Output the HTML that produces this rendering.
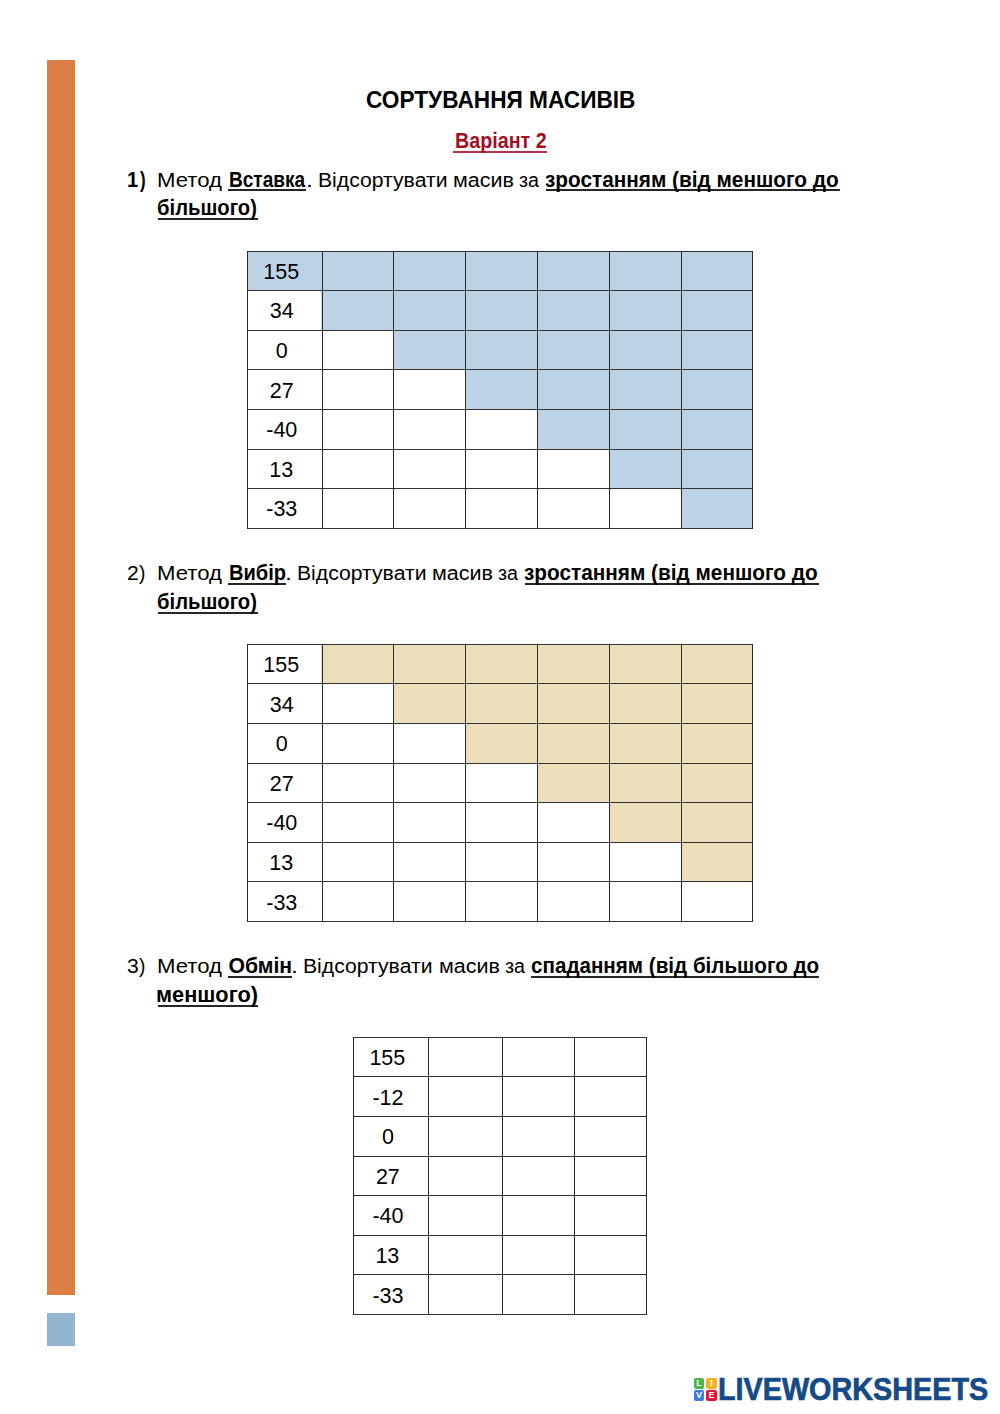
<!DOCTYPE html>
<html><head><meta charset="utf-8"><style>
html,body{margin:0;padding:0;background:#fff;}
body{width:1000px;height:1414px;position:relative;overflow:hidden;font-family:"Liberation Sans",sans-serif;color:#000;}
.t{position:absolute;white-space:pre;transform-origin:0 0;}
.b{font-weight:700;}
.u{position:absolute;height:2px;opacity:0.85;}
.sh{position:absolute;}
.hl{position:absolute;height:1px;background:#333;}
.vl{position:absolute;width:1px;background:#2a2a2a;}
.bar{position:absolute;left:46.6px;width:28.2px;}
.logo{position:absolute;}
.sq{position:absolute;width:10.5px;height:10.5px;border-radius:2px;color:#fff;font-weight:700;font-size:9px;line-height:10.5px;text-align:center;}
</style></head><body>
<div class="bar" style="top:60px;height:1234.6px;background:#dc7f47"></div>
<div class="bar" style="top:1313.2px;height:32.4px;background:#93b4d3"></div>
<div class="sh" style="left:247.5px;top:251.0px;width:75.1px;height:40.2px;background:#bdd2e4"></div>
<div class="sh" style="left:321.4px;top:251.0px;width:72.7px;height:40.2px;background:#bdd2e4"></div>
<div class="sh" style="left:392.9px;top:251.0px;width:73.2px;height:40.2px;background:#bdd2e4"></div>
<div class="sh" style="left:464.9px;top:251.0px;width:73.2px;height:40.2px;background:#bdd2e4"></div>
<div class="sh" style="left:536.9px;top:251.0px;width:73.2px;height:40.2px;background:#bdd2e4"></div>
<div class="sh" style="left:608.9px;top:251.0px;width:72.9px;height:40.2px;background:#bdd2e4"></div>
<div class="sh" style="left:680.6px;top:251.0px;width:72.1px;height:40.2px;background:#bdd2e4"></div>
<div class="sh" style="left:321.4px;top:290.0px;width:72.7px;height:40.8px;background:#bdd2e4"></div>
<div class="sh" style="left:392.9px;top:290.0px;width:73.2px;height:40.8px;background:#bdd2e4"></div>
<div class="sh" style="left:464.9px;top:290.0px;width:73.2px;height:40.8px;background:#bdd2e4"></div>
<div class="sh" style="left:536.9px;top:290.0px;width:73.2px;height:40.8px;background:#bdd2e4"></div>
<div class="sh" style="left:608.9px;top:290.0px;width:72.9px;height:40.8px;background:#bdd2e4"></div>
<div class="sh" style="left:680.6px;top:290.0px;width:72.1px;height:40.8px;background:#bdd2e4"></div>
<div class="sh" style="left:392.9px;top:329.6px;width:73.2px;height:40.8px;background:#bdd2e4"></div>
<div class="sh" style="left:464.9px;top:329.6px;width:73.2px;height:40.8px;background:#bdd2e4"></div>
<div class="sh" style="left:536.9px;top:329.6px;width:73.2px;height:40.8px;background:#bdd2e4"></div>
<div class="sh" style="left:608.9px;top:329.6px;width:72.9px;height:40.8px;background:#bdd2e4"></div>
<div class="sh" style="left:680.6px;top:329.6px;width:72.1px;height:40.8px;background:#bdd2e4"></div>
<div class="sh" style="left:464.9px;top:369.2px;width:73.2px;height:40.8px;background:#bdd2e4"></div>
<div class="sh" style="left:536.9px;top:369.2px;width:73.2px;height:40.8px;background:#bdd2e4"></div>
<div class="sh" style="left:608.9px;top:369.2px;width:72.9px;height:40.8px;background:#bdd2e4"></div>
<div class="sh" style="left:680.6px;top:369.2px;width:72.1px;height:40.8px;background:#bdd2e4"></div>
<div class="sh" style="left:536.9px;top:408.8px;width:73.2px;height:40.8px;background:#bdd2e4"></div>
<div class="sh" style="left:608.9px;top:408.8px;width:72.9px;height:40.8px;background:#bdd2e4"></div>
<div class="sh" style="left:680.6px;top:408.8px;width:72.1px;height:40.8px;background:#bdd2e4"></div>
<div class="sh" style="left:608.9px;top:448.4px;width:72.9px;height:40.8px;background:#bdd2e4"></div>
<div class="sh" style="left:680.6px;top:448.4px;width:72.1px;height:40.8px;background:#bdd2e4"></div>
<div class="sh" style="left:680.6px;top:488.0px;width:72.1px;height:40.2px;background:#bdd2e4"></div>
<div class="hl" style="left:247.0px;top:250.5px;width:506.2px"></div>
<div class="hl" style="left:247.0px;top:290.1px;width:506.2px"></div>
<div class="hl" style="left:247.0px;top:329.7px;width:506.2px"></div>
<div class="hl" style="left:247.0px;top:369.3px;width:506.2px"></div>
<div class="hl" style="left:247.0px;top:408.9px;width:506.2px"></div>
<div class="hl" style="left:247.0px;top:448.5px;width:506.2px"></div>
<div class="hl" style="left:247.0px;top:488.1px;width:506.2px"></div>
<div class="hl" style="left:247.0px;top:527.7px;width:506.2px"></div>
<div class="vl" style="left:247.0px;top:250.5px;height:278.2px"></div>
<div class="vl" style="left:321.5px;top:250.5px;height:278.2px"></div>
<div class="vl" style="left:393.0px;top:250.5px;height:278.2px"></div>
<div class="vl" style="left:465.0px;top:250.5px;height:278.2px"></div>
<div class="vl" style="left:537.0px;top:250.5px;height:278.2px"></div>
<div class="vl" style="left:609.0px;top:250.5px;height:278.2px"></div>
<div class="vl" style="left:680.7px;top:250.5px;height:278.2px"></div>
<div class="vl" style="left:752.2px;top:250.5px;height:278.2px"></div>
<div class="sh" style="left:321.4px;top:644.2px;width:72.7px;height:40.2px;background:#ecdebb"></div>
<div class="sh" style="left:392.9px;top:644.2px;width:73.2px;height:40.2px;background:#ecdebb"></div>
<div class="sh" style="left:464.9px;top:644.2px;width:73.2px;height:40.2px;background:#ecdebb"></div>
<div class="sh" style="left:536.9px;top:644.2px;width:73.2px;height:40.2px;background:#ecdebb"></div>
<div class="sh" style="left:608.9px;top:644.2px;width:72.9px;height:40.2px;background:#ecdebb"></div>
<div class="sh" style="left:680.6px;top:644.2px;width:72.1px;height:40.2px;background:#ecdebb"></div>
<div class="sh" style="left:392.9px;top:683.2px;width:73.2px;height:40.8px;background:#ecdebb"></div>
<div class="sh" style="left:464.9px;top:683.2px;width:73.2px;height:40.8px;background:#ecdebb"></div>
<div class="sh" style="left:536.9px;top:683.2px;width:73.2px;height:40.8px;background:#ecdebb"></div>
<div class="sh" style="left:608.9px;top:683.2px;width:72.9px;height:40.8px;background:#ecdebb"></div>
<div class="sh" style="left:680.6px;top:683.2px;width:72.1px;height:40.8px;background:#ecdebb"></div>
<div class="sh" style="left:464.9px;top:722.8px;width:73.2px;height:40.8px;background:#ecdebb"></div>
<div class="sh" style="left:536.9px;top:722.8px;width:73.2px;height:40.8px;background:#ecdebb"></div>
<div class="sh" style="left:608.9px;top:722.8px;width:72.9px;height:40.8px;background:#ecdebb"></div>
<div class="sh" style="left:680.6px;top:722.8px;width:72.1px;height:40.8px;background:#ecdebb"></div>
<div class="sh" style="left:536.9px;top:762.4px;width:73.2px;height:40.8px;background:#ecdebb"></div>
<div class="sh" style="left:608.9px;top:762.4px;width:72.9px;height:40.8px;background:#ecdebb"></div>
<div class="sh" style="left:680.6px;top:762.4px;width:72.1px;height:40.8px;background:#ecdebb"></div>
<div class="sh" style="left:608.9px;top:802.0px;width:72.9px;height:40.8px;background:#ecdebb"></div>
<div class="sh" style="left:680.6px;top:802.0px;width:72.1px;height:40.8px;background:#ecdebb"></div>
<div class="sh" style="left:680.6px;top:841.6px;width:72.1px;height:40.8px;background:#ecdebb"></div>
<div class="hl" style="left:247.0px;top:643.7px;width:506.2px"></div>
<div class="hl" style="left:247.0px;top:683.3px;width:506.2px"></div>
<div class="hl" style="left:247.0px;top:722.9px;width:506.2px"></div>
<div class="hl" style="left:247.0px;top:762.5px;width:506.2px"></div>
<div class="hl" style="left:247.0px;top:802.1px;width:506.2px"></div>
<div class="hl" style="left:247.0px;top:841.7px;width:506.2px"></div>
<div class="hl" style="left:247.0px;top:881.3px;width:506.2px"></div>
<div class="hl" style="left:247.0px;top:920.9px;width:506.2px"></div>
<div class="vl" style="left:247.0px;top:643.7px;height:278.2px"></div>
<div class="vl" style="left:321.5px;top:643.7px;height:278.2px"></div>
<div class="vl" style="left:393.0px;top:643.7px;height:278.2px"></div>
<div class="vl" style="left:465.0px;top:643.7px;height:278.2px"></div>
<div class="vl" style="left:537.0px;top:643.7px;height:278.2px"></div>
<div class="vl" style="left:609.0px;top:643.7px;height:278.2px"></div>
<div class="vl" style="left:680.7px;top:643.7px;height:278.2px"></div>
<div class="vl" style="left:752.2px;top:643.7px;height:278.2px"></div>
<div class="hl" style="left:353.0px;top:1036.7px;width:294.1px"></div>
<div class="hl" style="left:353.0px;top:1076.3px;width:294.1px"></div>
<div class="hl" style="left:353.0px;top:1115.9px;width:294.1px"></div>
<div class="hl" style="left:353.0px;top:1155.5px;width:294.1px"></div>
<div class="hl" style="left:353.0px;top:1195.1px;width:294.1px"></div>
<div class="hl" style="left:353.0px;top:1234.7px;width:294.1px"></div>
<div class="hl" style="left:353.0px;top:1274.3px;width:294.1px"></div>
<div class="hl" style="left:353.0px;top:1313.9px;width:294.1px"></div>
<div class="vl" style="left:353.0px;top:1036.7px;height:278.2px"></div>
<div class="vl" style="left:427.8px;top:1036.7px;height:278.2px"></div>
<div class="vl" style="left:502.4px;top:1036.7px;height:278.2px"></div>
<div class="vl" style="left:574.1px;top:1036.7px;height:278.2px"></div>
<div class="vl" style="left:646.1px;top:1036.7px;height:278.2px"></div>
<div class="t b" style="left:365.61px;top:88.83px;font-size:23.0px;line-height:23.0px;transform:scaleX(0.9852);">СОРТУВАННЯ МАСИВІВ</div>
<div class="t b" style="left:454.57px;top:129.55px;font-size:21.2px;line-height:21.2px;transform:scaleX(0.9299);color:#a50f25;">Варіант 2</div>
<div class="t b" style="left:127.35px;top:168.55px;font-size:21.2px;line-height:21.2px;transform:scaleX(0.9500);">1</div>
<div class="t b" style="left:140.00px;top:168.55px;font-size:21.2px;line-height:21.2px;transform:scaleX(0.8000);">)</div>
<div class="t" style="left:156.79px;top:169.57px;font-size:20.0px;line-height:20.0px;transform:scaleX(1.1071);">Метод</div>
<div class="t b" style="left:229.10px;top:168.55px;font-size:21.2px;line-height:21.2px;transform:scaleX(0.8988);">Вставка</div>
<div class="t" style="left:305.50px;top:169.57px;font-size:20.0px;line-height:20.0px;transform:scaleX(1.2500);">.</div>
<div class="t" style="left:317.58px;top:169.57px;font-size:20.0px;line-height:20.0px;transform:scaleX(1.0588);">Відсортувати</div>
<div class="t" style="left:452.92px;top:169.57px;font-size:20.0px;line-height:20.0px;transform:scaleX(1.0764);">масив</div>
<div class="t" style="left:519.02px;top:169.57px;font-size:20.0px;line-height:20.0px;transform:scaleX(0.9842);">за</div>
<div class="t b" style="left:545.22px;top:168.55px;font-size:21.2px;line-height:21.2px;transform:scaleX(0.9805);">зростанням (від меншого до</div>
<div class="t b" style="left:157.44px;top:197.45px;font-size:21.2px;line-height:21.2px;transform:scaleX(0.9553);">більшого)</div>
<div class="t" style="left:127.24px;top:563.07px;font-size:20.0px;line-height:20.0px;transform:scaleX(1.0556);">2</div>
<div class="t" style="left:139.04px;top:563.07px;font-size:20.0px;line-height:20.0px;transform:scaleX(0.9600);">)</div>
<div class="t" style="left:156.79px;top:563.07px;font-size:20.0px;line-height:20.0px;transform:scaleX(1.1071);">Метод</div>
<div class="t b" style="left:228.55px;top:562.05px;font-size:21.2px;line-height:21.2px;transform:scaleX(0.9483);">Вибір</div>
<div class="t" style="left:284.50px;top:563.07px;font-size:20.0px;line-height:20.0px;transform:scaleX(1.2500);">.</div>
<div class="t" style="left:296.58px;top:563.07px;font-size:20.0px;line-height:20.0px;transform:scaleX(1.0588);">Відсортувати</div>
<div class="t" style="left:431.92px;top:563.07px;font-size:20.0px;line-height:20.0px;transform:scaleX(1.0764);">масив</div>
<div class="t" style="left:498.02px;top:563.07px;font-size:20.0px;line-height:20.0px;transform:scaleX(0.9842);">за</div>
<div class="t b" style="left:524.22px;top:562.05px;font-size:21.2px;line-height:21.2px;transform:scaleX(0.9805);">зростанням (від меншого до</div>
<div class="t b" style="left:157.44px;top:590.95px;font-size:21.2px;line-height:21.2px;transform:scaleX(0.9553);">більшого)</div>
<div class="t" style="left:127.24px;top:956.07px;font-size:20.0px;line-height:20.0px;transform:scaleX(1.0556);">3</div>
<div class="t" style="left:139.04px;top:956.07px;font-size:20.0px;line-height:20.0px;transform:scaleX(0.9600);">)</div>
<div class="t" style="left:156.79px;top:956.07px;font-size:20.0px;line-height:20.0px;transform:scaleX(1.1071);">Метод</div>
<div class="t b" style="left:228.50px;top:955.05px;font-size:21.2px;line-height:21.2px;">Обмін</div>
<div class="t" style="left:291.10px;top:956.07px;font-size:20.0px;line-height:20.0px;transform:scaleX(1.2500);">.</div>
<div class="t" style="left:303.18px;top:956.07px;font-size:20.0px;line-height:20.0px;transform:scaleX(1.0588);">Відсортувати</div>
<div class="t" style="left:438.52px;top:956.07px;font-size:20.0px;line-height:20.0px;transform:scaleX(1.0764);">масив</div>
<div class="t" style="left:504.62px;top:956.07px;font-size:20.0px;line-height:20.0px;transform:scaleX(0.9842);">за</div>
<div class="t b" style="left:531.03px;top:955.05px;font-size:21.2px;line-height:21.2px;transform:scaleX(0.9728);">спаданням (від більшого до</div>
<div class="t b" style="left:156.35px;top:983.95px;font-size:21.2px;line-height:21.2px;transform:scaleX(1.0250);">меншого)</div>
<div class="t" style="left:263.25px;top:261.80px;font-size:21.5px;line-height:21.5px;">155</div>
<div class="t" style="left:269.75px;top:301.40px;font-size:21.5px;line-height:21.5px;">34</div>
<div class="t" style="left:275.75px;top:341.00px;font-size:21.5px;line-height:21.5px;">0</div>
<div class="t" style="left:269.75px;top:380.60px;font-size:21.5px;line-height:21.5px;">27</div>
<div class="t" style="left:266.25px;top:420.20px;font-size:21.5px;line-height:21.5px;">-40</div>
<div class="t" style="left:269.25px;top:459.80px;font-size:21.5px;line-height:21.5px;">13</div>
<div class="t" style="left:266.25px;top:499.40px;font-size:21.5px;line-height:21.5px;">-33</div>
<div class="t" style="left:263.25px;top:655.00px;font-size:21.5px;line-height:21.5px;">155</div>
<div class="t" style="left:269.75px;top:694.60px;font-size:21.5px;line-height:21.5px;">34</div>
<div class="t" style="left:275.75px;top:734.20px;font-size:21.5px;line-height:21.5px;">0</div>
<div class="t" style="left:269.75px;top:773.80px;font-size:21.5px;line-height:21.5px;">27</div>
<div class="t" style="left:266.25px;top:813.40px;font-size:21.5px;line-height:21.5px;">-40</div>
<div class="t" style="left:269.25px;top:853.00px;font-size:21.5px;line-height:21.5px;">13</div>
<div class="t" style="left:266.25px;top:892.60px;font-size:21.5px;line-height:21.5px;">-33</div>
<div class="t" style="left:369.40px;top:1048.00px;font-size:21.5px;line-height:21.5px;">155</div>
<div class="t" style="left:372.40px;top:1087.60px;font-size:21.5px;line-height:21.5px;">-12</div>
<div class="t" style="left:381.90px;top:1127.20px;font-size:21.5px;line-height:21.5px;">0</div>
<div class="t" style="left:375.90px;top:1166.80px;font-size:21.5px;line-height:21.5px;">27</div>
<div class="t" style="left:372.40px;top:1206.40px;font-size:21.5px;line-height:21.5px;">-40</div>
<div class="t" style="left:375.40px;top:1246.00px;font-size:21.5px;line-height:21.5px;">13</div>
<div class="t" style="left:372.40px;top:1285.60px;font-size:21.5px;line-height:21.5px;">-33</div>
<div class="u" style="left:453.3px;width:93.5px;top:150.6px;background:#a50f25"></div>
<div class="u" style="left:228.0px;width:78.0px;top:189.3px;background:#000"></div>
<div class="u" style="left:545.5px;width:294.0px;top:189.3px;background:#000"></div>
<div class="u" style="left:157.8px;width:100.2px;top:218.0px;background:#000"></div>
<div class="u" style="left:227.5px;width:58.0px;top:582.8px;background:#000"></div>
<div class="u" style="left:524.5px;width:294.0px;top:582.8px;background:#000"></div>
<div class="u" style="left:157.8px;width:100.2px;top:611.5px;background:#000"></div>
<div class="u" style="left:228.2px;width:63.5px;top:975.8px;background:#000"></div>
<div class="u" style="left:531.2px;width:288.0px;top:975.8px;background:#000"></div>
<div class="u" style="left:157.8px;width:100.2px;top:1004.5px;background:#000"></div>
<div class="sq" style="left:693.8px;top:1378.2px;background:#4cb648">L</div>
<div class="sq" style="left:706.2px;top:1378.2px;background:#f5b324">I</div>
<div class="sq" style="left:693.8px;top:1390.2px;background:#3b7dd8">V</div>
<div class="sq" style="left:706.2px;top:1390.2px;background:#e0123a">E</div>
<div class="t b" style="left:718.34px;top:1374.26px;font-size:31px;line-height:31px;transform:scaleX(0.9281);color:#154a88;-webkit-text-stroke:0.7px #154a88">LIVEWORKSHEETS</div>
</body></html>
